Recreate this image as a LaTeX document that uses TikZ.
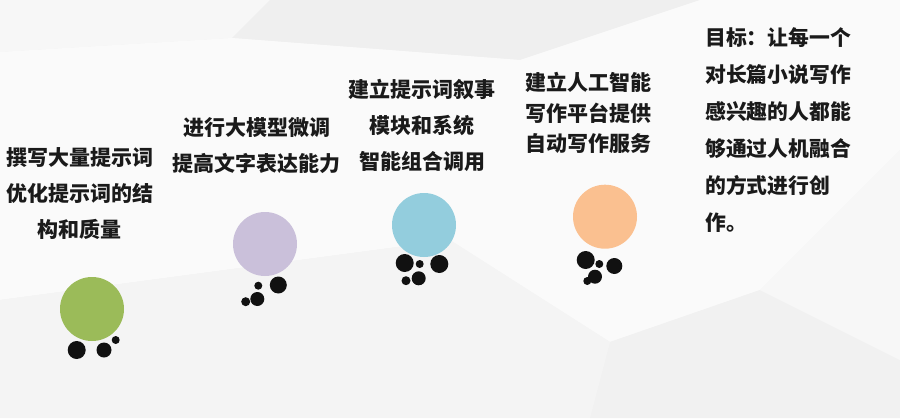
\documentclass[tikz,border=0pt]{standalone}
\usepackage{fontspec}
\newfontfamily\cjk{Noto Sans CJK SC}
\definecolor{cgreen}{HTML}{9BBB59}
\definecolor{cpurple}{HTML}{CAC0DA}
\definecolor{cblue}{HTML}{93CDDD}
\definecolor{corange}{HTML}{FAC090}
\definecolor{dotc}{HTML}{111111}
\definecolor{txt}{HTML}{1A1A1A}
\definecolor{bgA}{HTML}{F4F4F4}
\definecolor{bgB}{HTML}{EFEFEF}
\definecolor{bgC}{HTML}{FAFAFA}
\definecolor{bgD}{HTML}{F1F1F1}
\definecolor{bgE}{HTML}{F7F7F7}
\begin{document}
\begin{tikzpicture}[x=1pt,y=-1pt,
  ball/.style={circle,fill=#1,inner sep=0pt,minimum size=64pt},
  blob/.style={circle,fill=dotc,inner sep=0pt,minimum size={#1*2pt}},
  label/.style={text=txt,inner sep=0pt,align=center,font={\cjk\bfseries\fontsize{21}{36}\selectfont}},
  goal/.style={text=txt,inner sep=0pt,align=left,anchor=west,font={\cjk\bfseries\fontsize{20.8}{37}\selectfont}}]
\useasboundingbox (0,0) rectangle (900,418);
% background facets
\fill[bgA] (0,0) rectangle (900,418);
\fill[bgE] (0,0) -- (270,0) -- (232,38) -- (0,52) -- cycle;
\fill[bgB] (232,38) -- (270,0) -- (700,0) -- (520,60) -- cycle;
\fill[bgC] (0,52) -- (232,38) -- (520,60) -- (700,0) -- (900,0) -- (900,150) -- (760,290) -- (610,342) -- (450,240) -- (0,300) -- cycle;
\fill[bgD] (610,342) -- (760,290) -- (900,360) -- (900,418) -- (590,418) -- cycle;
\fill[bgE] (760,290) -- (900,150) -- (900,360) -- cycle;
\fill[bgA] (0,300) -- (450,240) -- (610,342) -- (590,418) -- (0,418) -- cycle;

% texts
\node[label] (t1) at (80,194) {撰写大量提示词\\优化提示词的结\\构和质量};
\node[label] (t2) at (256.5,145.5) {进行大模型微调\\提高文字表达能力};
\node[label] (t3) at (422,125) {建立提示词叙事\\模块和系统\\智能组合调用};
\node[label,font={\cjk\bfseries\fontsize{21}{30.5}\selectfont}] (t4) at (588,113) {建立人工智能\\写作平台提供\\自动写作服务};
\node[goal] (t5) at (705,130.5) {目标：让每一个\\对长篇小说写作\\感兴趣的人都能\\够通过人机融合\\的方式进行创\\作。};

% circles
\node[ball=cgreen] (c1) at (92,309) {};
\node[blob=9] (d11) at (76.7,350) {};
\node[blob=7.5] (d12) at (104,350) {};
\node[blob=4] (d13) at (115.7,340) {};

\node[ball=cpurple] (c2) at (265,244) {};
\node[blob=8.5] (d21) at (278.3,285) {};
\node[blob=4] (d22) at (258.3,285.7) {};
\node[blob=7] (d23) at (257.3,299) {};
\node[blob=4.5] (d24) at (245.7,301.7) {};

\node[ball=cblue] (c3) at (424,225) {};
\node[blob=9] (d31) at (404.7,263) {};
\node[blob=4] (d32) at (419.7,264) {};
\node[blob=9] (d33) at (439.3,264) {};
\node[blob=7] (d34) at (418.7,278.3) {};
\node[blob=4.5] (d35) at (406,280.7) {};

\node[ball=corange] (c4) at (605,216.7) {};
\node[blob=9] (d41) at (585.7,260) {};
\node[blob=4] (d42) at (599.3,264) {};
\node[blob=8] (d43) at (614.3,266) {};
\node[blob=7] (d44) at (595,276.7) {};
\node[blob=4] (d45) at (587.3,281) {};
\end{tikzpicture}
\end{document}
